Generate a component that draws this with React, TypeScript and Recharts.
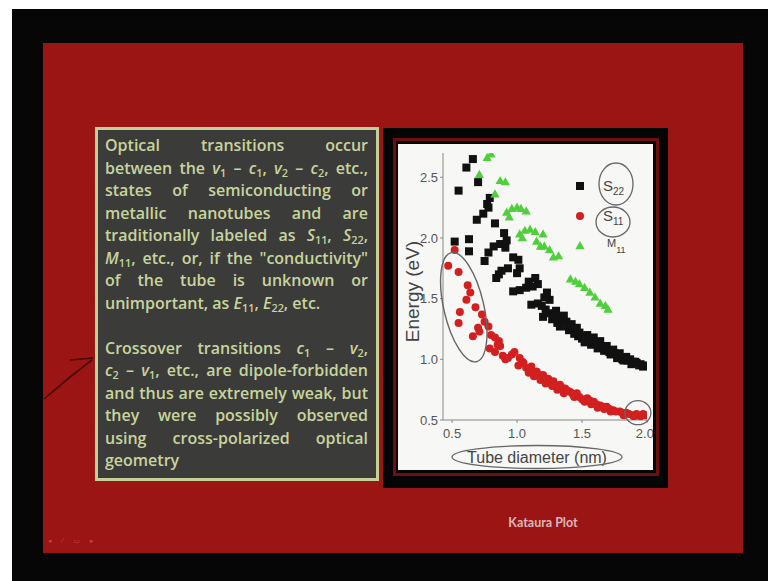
import React from "react"
import { ScatterChart, Scatter, XAxis, YAxis, Legend, ReferenceDot } from "recharts"

// S22 (black squares)
const s22Diameter = [
  0.66, 0.61, 0.55, 0.70, 0.52, 0.63, 0.63, 0.69, 0.74, 0.77, 0.79, 0.78, 0.83, 0.90, 0.82, 0.78, 0.75, 0.87, 0.92, 0.91,
  0.84, 0.86, 0.88, 0.93, 0.97, 1.01, 1.02, 1.00,
  0.97, 1.02, 1.07, 1.09, 1.14, 1.16, 1.12,
  1.11, 1.16, 1.21, 1.25, 1.23, 1.19,
  1.20, 1.25, 1.30, 1.27, 1.34, 1.38, 1.33, 1.36, 1.31,
  1.42, 1.40, 1.46, 1.44, 1.48, 1.50, 1.54, 1.52, 1.59, 1.57, 1.64, 1.62, 1.69, 1.67, 1.74, 1.72,
  1.79, 1.77, 1.84, 1.82, 1.89, 1.87, 1.95, 1.92, 1.97,
  1.22, 1.29, 1.35, 1.39, 1.43, 1.47, 1.51, 1.55, 1.58, 1.61, 1.65, 1.68, 1.71, 1.75, 1.78, 1.81, 1.85, 1.88, 1.91, 1.94, 1.99,
]
const s22Energy = [
  2.65, 2.58, 2.39, 2.46, 1.97, 1.99, 1.89, 2.15, 2.20, 2.28, 2.33, 2.25, 2.12, 2.04, 1.93, 1.88, 1.81, 1.95, 1.98, 1.92,
  1.67, 1.70, 1.73, 1.75, 1.84, 1.82, 1.75, 1.71,
  1.56, 1.57, 1.59, 1.64, 1.67, 1.62, 1.60,
  1.45, 1.46, 1.51, 1.49, 1.55, 1.44,
  1.35, 1.38, 1.40, 1.33, 1.34, 1.31, 1.27, 1.36, 1.30,
  1.29, 1.24, 1.26, 1.21, 1.22, 1.17, 1.20, 1.14, 1.18, 1.12, 1.15, 1.09, 1.11, 1.07, 1.08, 1.04,
  1.05, 1.01, 1.02, 0.99, 0.98, 1.00, 0.96, 0.97, 0.94,
  1.41, 1.36, 1.32, 1.27, 1.25, 1.19, 1.19, 1.15, 1.15, 1.13, 1.10, 1.09, 1.06, 1.05, 1.03, 1.00, 0.99, 0.96, 0.98, 0.95, 0.95,
]

// S11 (red circles)
const s11Diameter = [
  0.52, 0.47, 0.55, 0.62, 0.64, 0.61, 0.68, 0.56, 0.73, 0.55, 0.75, 0.70, 0.78, 0.66, 0.71,
  0.80, 0.83, 0.86, 0.79, 0.83, 0.87, 0.91, 0.96, 0.98, 1.02, 1.01, 1.05, 1.07, 1.11, 1.09,
  1.15, 1.13, 1.20, 1.18, 1.24, 1.22, 1.28, 1.27, 1.33, 1.31, 1.37, 1.36, 1.41, 1.46, 1.44,
  1.48, 1.54, 1.52, 1.59, 1.57, 1.64, 1.62, 1.69, 1.67, 1.74, 1.72, 1.79, 1.84, 1.82, 1.89,
  1.95, 1.92, 1.97,
  0.85, 0.89, 0.93, 1.04, 1.10, 1.16, 1.21, 1.26, 1.30, 1.34, 1.39, 1.43, 1.50, 1.56, 1.61, 1.66, 1.71, 1.76, 1.81, 1.86, 1.90, 1.99,
]
const s11Energy = [
  1.90, 1.77, 1.72, 1.61, 1.55, 1.49, 1.43, 1.39, 1.37, 1.30, 1.31, 1.26, 1.27, 1.19, 1.23,
  1.20, 1.18, 1.15, 1.09, 1.06, 1.11, 1.00, 1.04, 1.06, 1.01, 0.95, 0.97, 0.93, 0.94, 0.89,
  0.90, 0.86, 0.87, 0.83, 0.84, 0.80, 0.82, 0.78, 0.79, 0.75, 0.76, 0.72, 0.73, 0.72, 0.69,
  0.69, 0.68, 0.65, 0.65, 0.63, 0.62, 0.60, 0.61, 0.59, 0.58, 0.57, 0.57, 0.56, 0.54, 0.54,
  0.53, 0.55, 0.55,
  1.12, 1.03, 1.01, 0.98, 0.91, 0.88, 0.85, 0.81, 0.78, 0.77, 0.74, 0.71, 0.67, 0.66, 0.63, 0.61, 0.59, 0.57, 0.56, 0.55, 0.53, 0.54,
]

// M11 (green triangles)
const m11Diameter = [
  0.80, 0.77, 0.71, 0.83, 0.87, 0.91, 0.92, 0.94, 0.96, 1.00, 1.03, 1.07,
  1.02, 1.06, 1.10, 1.14, 1.04, 1.20, 1.15, 1.18, 1.21, 1.25, 1.28, 1.32,
  1.41, 1.45, 1.48, 1.52, 1.56, 1.60, 1.64, 1.68, 1.70,
]
const m11Energy = [
  2.69, 2.66, 2.52, 2.36, 2.47, 2.46, 2.21, 2.17, 2.24, 2.25, 2.24, 2.22,
  2.03, 2.06, 2.07, 2.05, 2.00, 2.03, 1.97, 1.93, 1.93, 1.90, 1.84, 1.85,
  1.66, 1.64, 1.62, 1.59, 1.55, 1.51, 1.46, 1.44, 1.41,
]

const seriesOrder = ["S22", "S11", "M11"]
const xTicks = [0.5, 1.0, 1.5, 2.0]
const yTicks = [0.5, 1.0, 1.5, 2.0, 2.5]

const toPoints = (xs: number[], ys: number[]) => xs.map((d, i) => ({ d, e: ys[i] }))

const s22Points = toPoints(s22Diameter, s22Energy)
const s11Points = toPoints(s11Diameter, s11Energy)
const m11Points = toPoints(m11Diameter, m11Energy)

const BLACK = "#111111"
const RED = "#d21f1f"
const GREEN = "#4fcf3c"
const PEN = "#666"
const FONT = "'Liberation Sans', Arial, sans-serif"

const squareShape = (p: any) => <rect x={p.cx - 4} y={p.cy - 4} width={8} height={8} fill={BLACK} />
const circleShape = (p: any) => <circle cx={p.cx} cy={p.cy} r={4} fill={RED} />
const triangleShape = (p: any) => (
  <polygon points={`${p.cx},${p.cy - 5} ${p.cx + 4.6},${p.cy + 3.2} ${p.cx - 4.6},${p.cy + 3.2}`} fill={GREEN} />
)

function LegendBox({ payload }: any) {
  const rows = [...(payload || [])].sort((a: any, b: any) => seriesOrder.indexOf(a.value) - seriesOrder.indexOf(b.value))
  return (
    <svg width={85} height={110} style={{ overflow: "visible" }}>
      {rows.map((entry: any, i: number) => {
        const cy = 26 + i * 30
        const marker =
          entry.type === "square" ? squareShape({ cx: 14, cy }) : entry.type === "circle" ? circleShape({ cx: 14, cy }) : triangleShape({ cx: 14, cy })
        const letter = entry.value.charAt(0)
        const sub = entry.value.slice(1)
        const small = letter === "M"
        return (
          <g key={entry.value}>
            {marker}
            <text x={small ? 41 : 37} y={cy + (small ? 1 : 5)} fontFamily={FONT} fontSize={small ? 11 : 15} fill="#444">
              {letter}
              <tspan fontSize={small ? 9 : 10} dy={small ? 6 : 4}>{sub}</tspan>
            </text>
          </g>
        )
      })}
      <ellipse cx={50} cy={24} rx={17} ry={21} fill="none" stroke={PEN} strokeWidth={1.3} />
      <ellipse cx={47} cy={62} rx={17} ry={15} fill="none" stroke={PEN} strokeWidth={1.3} />
    </svg>
  )
}

const xLabel = (props: any) => {
  const vb = props.viewBox
  const cx = vb.x + vb.width / 2 - 8
  const cy = vb.y + 37
  return (
    <g>
      <text x={cx} y={cy} textAnchor="middle" dominantBaseline="central" fontFamily={FONT} fontSize={16} fill="#444">
        Tube diameter (nm)
      </text>
      <ellipse cx={cx} cy={cy} rx={85} ry={11.5} fill="none" stroke={PEN} strokeWidth={1.3} />
    </g>
  )
}

const yLabel = (props: any) => {
  const vb = props.viewBox
  const cx = vb.x + 14
  const cy = vb.y + vb.height / 2 + 5
  return (
    <text x={cx} y={cy} transform={`rotate(-90 ${cx} ${cy})`} textAnchor="middle" dominantBaseline="central" fontFamily={FONT} fontSize={19} fill="#444">
      Energy (eV)
    </text>
  )
}

function KatauraChart() {
  return (
    <ScatterChart width={255} height={326} margin={{ top: 9, right: 6, left: 0, bottom: 0 }} style={{ background: "#f7f7f5" }}>
      <XAxis
        type="number"
        dataKey="d"
        domain={[0.43, 2.0]}
        ticks={xTicks}
        tickFormatter={(v) => v.toFixed(1)}
        height={50}
        tickSize={3}
        tickMargin={6}
        stroke="#888"
        tick={{ fill: "#555", fontSize: 13, fontFamily: FONT }}
        allowDataOverflow
        label={xLabel}
      />
      <YAxis
        type="number"
        dataKey="e"
        domain={[0.5, 2.7]}
        ticks={yTicks}
        tickFormatter={(v) => v.toFixed(1)}
        width={45}
        tickSize={3}
        tickMargin={2}
        stroke="#888"
        tick={{ fill: "#555", fontSize: 13, fontFamily: FONT }}
        allowDataOverflow
        label={yLabel}
      />
      <Legend
        layout="horizontal"
        verticalAlign="middle"
        align="center"
        content={LegendBox}
        wrapperStyle={{ position: "absolute", left: 168, top: 16, width: 85, height: 110 }}
      />
      <Scatter name="S22" data={s22Points} legendType="square" fill={BLACK} shape={squareShape} isAnimationActive={false} />
      <Scatter name="S11" data={s11Points} legendType="circle" fill={RED} shape={circleShape} isAnimationActive={false} />
      <Scatter name="M11" data={m11Points} legendType="triangle" fill={GREEN} shape={triangleShape} isAnimationActive={false} />
      <ReferenceDot
        x={0.59}
        y={1.43}
        shape={(p: any) => (
          <ellipse cx={p.cx} cy={p.cy} rx={20} ry={56} transform={`rotate(-13 ${p.cx} ${p.cy})`} fill="none" stroke={PEN} strokeWidth={1.4} />
        )}
      />
      <ReferenceDot
        x={1.93}
        y={0.56}
        shape={(p: any) => <ellipse cx={p.cx} cy={p.cy} rx={13} ry={12} fill="none" stroke={PEN} strokeWidth={1.3} />}
      />
    </ScatterChart>
  )
}

const para1 = [
  <>Optical transitions occur</>,
  <>between the <i>v</i><sub>1</sub> – <i>c</i><sub>1</sub>, <i>v</i><sub>2</sub> – <i>c</i><sub>2</sub>, etc.,</>,
  <>states of semiconducting or</>,
  <>metallic nanotubes and are</>,
  <>traditionally labeled as <i>S</i><sub>11</sub>, <i>S</i><sub>22</sub>,</>,
  <><i>M</i><sub>11</sub>, etc., or, if the "conductivity"</>,
  <>of the tube is unknown or</>,
  <>unimportant, as <i>E</i><sub>11</sub>, <i>E</i><sub>22</sub>, etc.</>,
]
const para2 = [
  <>Crossover transitions <i>c</i><sub>1</sub> – <i>v</i><sub>2</sub>,</>,
  <><i>c</i><sub>2</sub> – <i>v</i><sub>1</sub>, etc., are dipole-forbidden</>,
  <>and thus are extremely weak, but</>,
  <>they were possibly observed</>,
  <>using cross-polarized optical</>,
  <>geometry</>,
]

function Para({ lines }: { lines: React.ReactNode[] }) {
  return (
    <div>
      {lines.map((l, i) => (
        <div
          key={i}
          style={{ whiteSpace: "nowrap", textAlign: "justify", textAlignLast: i === lines.length - 1 ? "left" : "justify", height: 22.5 }}
        >
          {l}
        </div>
      ))}
    </div>
  )
}

export default function App() {
  return (
    <div style={{ position: "absolute", left: 0, top: 0, width: 768, height: 581, background: "#fff", overflow: "hidden" }}>
      <style>{`sub{font-size:0.68em;vertical-align:-0.25em;line-height:0}`}</style>
      <div style={{ position: "absolute", left: 12, top: 9, right: 0, bottom: 0, background: "#060606" }} />
      <div style={{ position: "absolute", left: 43, top: 43, width: 700, height: 510, background: "#9c1515" }} />

      <div
        style={{
          position: "absolute",
          left: 95,
          top: 127,
          width: 284,
          height: 354,
          boxSizing: "border-box",
          border: "3px solid #c5cf98",
          background: "#3b3b39",
          color: "#c8d49e",
          fontFamily: "'Open Sans', sans-serif",
          fontWeight: 600,
          fontSize: 16,
          lineHeight: "22.5px",
          padding: "4px 8px 0 7px",
        }}
      >
        <Para lines={para1} />
        <div style={{ height: 22.5 }} />
        <Para lines={para2} />
      </div>

      <svg style={{ position: "absolute", left: 0, top: 0 }} width={120} height={581}>
        <path d="M44 399 Q68 378 92 360" fill="none" stroke="#4a0606" strokeWidth={1.6} />
        <path d="M70 360 L93 358" fill="none" stroke="#4a0606" strokeWidth={1.4} />
      </svg>

      <div style={{ position: "absolute", left: 383, top: 128, width: 285, height: 360, background: "#050505" }} />
      <div
        style={{ position: "absolute", left: 393, top: 138, width: 266, height: 338, boxSizing: "border-box", border: "3px solid #6e0f0f" }}
      />
      <div style={{ position: "absolute", left: 398, top: 144, width: 255, height: 326, background: "#f7f7f5" }}>
        <KatauraChart />
      </div>

      <div
        style={{
          position: "absolute",
          left: 493,
          top: 515,
          width: 100,
          textAlign: "center",
          color: "#dcb6b6",
          fontFamily: "Lato, sans-serif",
          fontWeight: 700,
          fontSize: 12.5,
        }}
      >
        Kataura Plot
      </div>
      <div
        style={{ position: "absolute", left: 48, top: 537, color: "#c04848", fontFamily: "'DejaVu Sans', sans-serif", fontSize: 7, letterSpacing: 4 }}
      >
        ◂ ⁄ ▭ ▸
      </div>
    </div>
  )
}
